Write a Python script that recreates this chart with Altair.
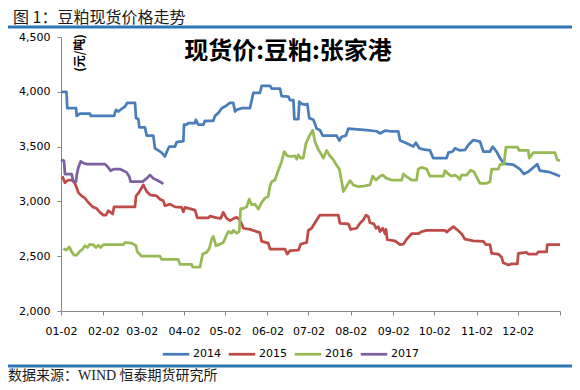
import altair as alt
import pandas as pd

years = ["2014", "2015", "2016", "2017"]
colors = ["#4A7EBB", "#BE4B48", "#98B954", "#7D60A0"]
tick_days = [0, 31, 59, 90, 120, 151, 181, 212, 243, 273, 304, 334, 365]
tick_labels = ["01-02", "02-02", "03-02", "04-02", "05-02", "06-02", "07-02",
               "08-02", "09-02", "10-02", "11-02", "12-02", ""]
y_ticks = [2000, 2500, 3000, 3500, 4000, 4500]

# day = days since Jan 2 of each year
d14 = [0, 4, 4.6, 11, 11.5, 13.9, 21.2, 21.7, 38.8, 40.2,
       42, 44.4, 46.8, 48.5, 54.1, 54.9, 56.6, 57.3, 61.4, 62.7,
       67.5, 68.7, 71.2, 73.6, 76, 77.8, 79.2, 83.4, 84.6, 89.5,
       90, 92, 93.1, 98, 98.7, 100.4, 104.1, 105.3, 111.4, 112.6,
       115, 117.5, 119.9, 123.6, 126, 127.3, 128.5, 132.1, 138.2, 140.7,
       145.5, 146.8, 152.9, 154.1, 160.2, 161.4, 166.3, 167.5, 170, 170.7,
       173.6, 174.3, 176, 179.7, 180.2, 181.6, 184.6, 187, 189.4, 191.4,
       201.6, 203.6, 205.3, 208.4, 210.2, 223.6, 230.9, 233.3, 237, 240.6,
       246.7, 248, 252.8, 257.7, 259.6, 262.1, 265, 269.9, 272.3, 282.1,
       283.3, 286.5, 288.2, 291.8, 295.5, 297.9, 301.6, 306.5, 308.9, 313.8,
       315.7, 318.6, 321.1, 324, 330.8, 335.7, 338.6, 341.8, 345.5, 348.4,
       350.3, 356.4, 360.1, 365]
p14 = [4000, 4000, 3850, 3850, 3780, 3800, 3800, 3780, 3780, 3835,
       3820, 3845, 3865, 3900, 3900, 3760, 3750, 3675, 3675, 3600,
       3600, 3485, 3465, 3445, 3410, 3465, 3500, 3500, 3540, 3550,
       3700, 3700, 3715, 3715, 3745, 3700, 3700, 3735, 3735, 3780,
       3805, 3850, 3865, 3900, 3900, 3820, 3835, 3850, 3850, 3990,
       3990, 4055, 4055, 4030, 4030, 3960, 3955, 3925, 3925, 3750,
       3750, 3910, 3890, 3880, 3890, 3760, 3745, 3665, 3650, 3600,
       3600, 3555, 3590, 3600, 3665, 3650, 3640, 3620, 3645, 3640,
       3640, 3555, 3530, 3500, 3535, 3485, 3475, 3465, 3395, 3395,
       3445, 3455, 3485, 3465, 3470, 3515, 3560, 3545, 3455, 3455,
       3500, 3455, 3395, 3345, 3335, 3295, 3250, 3270, 3310, 3340,
       3280, 3270, 3255, 3230]

d15 = [1, 2.9, 5.4, 7.8, 9.5, 11, 12.7, 15.1, 17.5, 20,
       23.2, 26.1, 28.5, 31, 33, 34.6, 36.3, 37.8, 38.8, 54.1,
       54.9, 56.6, 60.2, 62.7, 65.1, 70, 72.4, 74.8, 76.1, 79.7,
       83.4, 88.3, 89.5, 90.7, 98, 99.7, 107.8, 109, 113.9, 116.8,
       118.7, 121.2, 123.6, 126.5, 128.5, 130.4, 132.1, 133.4, 138.2, 145.5,
       146.8, 151.6, 152.9, 163.8, 165.5, 167.5, 173.6, 175.3, 179.7, 180.9,
       183.3, 187, 189.4, 202.8, 204, 210.2, 211.9, 216.2, 218.7, 221.1,
       223.1, 224.8, 226, 228.9, 230.4, 232.1, 233.3, 235.3, 237, 237.7,
       238.7, 244.3, 247.9, 250.4, 252.8, 256.5, 261.3, 263.8, 267.4, 280.9,
       282.1, 284.5, 287, 289.4, 293, 295.5, 301.6, 308.9, 310.8, 313.8,
       315, 319.9, 322.3, 323.5, 327.2, 329.6, 333.8, 334.5, 340.6, 341.8,
       347.9, 349.1, 355.2, 355.7, 365]
p15 = [3230, 3170, 3195, 3195, 3180, 3140, 3080, 3050, 3030, 2990,
       2950, 2935, 2900, 2875, 2875, 2915, 2900, 2885, 2950, 2950,
       3050, 3075, 3150, 3090, 3060, 3050, 3020, 3005, 2960, 2975,
       2950, 2945, 2905, 2945, 2920, 2850, 2850, 2865, 2850, 2845,
       2900, 2845, 2825, 2845, 2855, 2835, 2795, 2755, 2745, 2715,
       2635, 2620, 2565, 2565, 2520, 2550, 2555, 2610, 2625, 2735,
       2755, 2830, 2875, 2875, 2800, 2795, 2745, 2755, 2800, 2830,
       2875, 2860, 2805, 2795, 2755, 2770, 2725, 2755, 2705, 2745,
       2650, 2640, 2605, 2610, 2655, 2705, 2705, 2725, 2735, 2735,
       2720, 2745, 2770, 2745, 2705, 2655, 2640, 2635, 2605, 2605,
       2525, 2520, 2490, 2440, 2420, 2430, 2430, 2525, 2535, 2520,
       2520, 2540, 2540, 2605, 2605]

d16 = [1.7, 3.7, 6.1, 7.8, 9.5, 11.5, 13.4, 15.8, 17.5, 19.3,
       20.7, 23.6, 25.6, 27.3, 29, 31, 45.6, 46.8, 51.7, 54.9,
       55.8, 59, 72.4, 73.6, 85.8, 87, 95.6, 96.3, 101.7, 103.6,
       106.5, 108.5, 110.2, 111.4, 113.4, 116.3, 118.7, 121.2, 122.4, 124.8,
       126, 128.5, 130.4, 131.4, 133.4, 135.8, 137.7, 139.4, 141.9, 144.3,
       146.8, 149.2, 151.6, 152.9, 154.1, 156.5, 159, 161.4, 163.3, 165.5,
       168.7, 171.1, 172.4, 173.6, 175.3, 177.2, 179.2, 181.6, 184.1, 185.8,
       188.2, 190.6, 191.9, 194.3, 196.7, 199.2, 201.6, 203.6, 205.3, 206.5,
       209, 211.4, 213.8, 217.5, 221.1, 226, 228, 230.4, 233.3, 235.3,
       238.2, 241.8, 249.2, 250.4, 252.8, 254.8, 256.5, 260.1, 261.3, 263.8,
       267.4, 269.9, 279.6, 280.9, 283.3, 285.7, 288.2, 289.9, 291.8, 293,
       296.7, 299.6, 302.1, 304.5, 306.5, 311.3, 313.8, 315, 319.9, 321.1,
       324, 325.5, 333.8, 335.2, 341.8, 342.5, 345.5, 361.3, 363, 365]
p16 = [2570, 2555, 2585, 2540, 2510, 2510, 2540, 2565, 2595, 2580,
       2605, 2605, 2580, 2600, 2580, 2605, 2605, 2625, 2620, 2595,
       2540, 2500, 2500, 2470, 2470, 2425, 2425, 2400, 2400, 2520,
       2535, 2570, 2655, 2680, 2595, 2610, 2625, 2695, 2725, 2710,
       2735, 2710, 2725, 2935, 2935, 2950, 3020, 2970, 2975, 2930,
       2990, 3030, 3045, 3140, 3180, 3195, 3285, 3365, 3455, 3415,
       3410, 3415, 3385, 3425, 3395, 3395, 3530, 3595, 3650, 3545,
       3475, 3425, 3395, 3465, 3415, 3380, 3330, 3295, 3180, 3090,
       3140, 3190, 3150, 3135, 3140, 3150, 3230, 3195, 3230, 3240,
       3210, 3195, 3195, 3250, 3225, 3210, 3195, 3195, 3295, 3310,
       3295, 3230, 3230, 3280, 3250, 3230, 3240, 3225, 3200, 3240,
       3240, 3285, 3270, 3210, 3165, 3165, 3180, 3295, 3295, 3335,
       3340, 3495, 3495, 3465, 3465, 3395, 3445, 3445, 3380, 3370]

d17 = [0, 2.2, 2.9, 7.8, 9, 11, 11.5, 12.7, 14.4, 16.3,
       18.8, 32.2, 34.6, 36.3, 38.8, 43.1, 45.6, 48, 50, 50.9,
       59.7, 62.7, 65.1, 67.5, 70, 72.4, 74.8]
p17 = [3380, 3370, 3250, 3250, 3180, 3180, 3240, 3310, 3365, 3350,
       3340, 3340, 3310, 3280, 3295, 3295, 3280, 3265, 3225, 3180,
       3180, 3210, 3240, 3210, 3195, 3180, 3160]

title_text = "图 1：豆粕现货价格走势"
chart_title = "现货价:豆粕:张家港"
unit_text = "(元/吨)"
source_text = "数据来源：WIND 恒泰期货研究所"

frames = []
for yr, d, p in zip(years, [d14, d15, d16, d17], [p14, p15, p16, p17]):
    frames.append(pd.DataFrame({"day": d, "price": p, "year": yr,
                                "seq": list(range(len(d)))}))
df = pd.concat(frames, ignore_index=True)

label_expr = ("[" + ",".join("'" + s + "'" for s in tick_labels) + "][indexof(["
              + ",".join(str(v) for v in tick_days) + "], datum.value)]")

AX = "#868686"
lines = alt.Chart(df).mark_line(strokeWidth=2.75, strokeJoin="round").encode(
    x=alt.X("day:Q",
            scale=alt.Scale(domain=[0, 365], nice=False, zero=False),
            axis=alt.Axis(values=tick_days, labelExpr=label_expr, title=None,
                          grid=False, labelPadding=10, labelFlush=False)),
    y=alt.Y("price:Q",
            scale=alt.Scale(domain=[2000, 4500], nice=False, zero=False),
            axis=alt.Axis(values=y_ticks, format=",.0f", title=None, grid=False,
                          labelPadding=7)),
    color=alt.Color("year:N",
                    scale=alt.Scale(domain=years, range=colors),
                    legend=alt.Legend(title=None, orient="none", direction="horizontal",
                                      legendX=100, legendY=302, symbolType="stroke",
                                      symbolSize=700, symbolStrokeWidth=2.75,
                                      labelFont="DejaVu Sans", labelFontSize=11,
                                      labelColor="#000000", labelOffset=2,
                                      columnPadding=2, padding=0)),
    order="seq:Q",
)

deco = pd.DataFrame({"k": [0]})
CJK = "Noto Sans CJK SC"
RULE = "#2E75B6"

title_mark = alt.Chart(deco).mark_text(
    text=title_text, align="left", baseline="middle", font=CJK, fontSize=16,
    color="#1a1a1a").encode(x=alt.value(-48), y=alt.value(-19))

top_rule = alt.Chart(deco).mark_rule(color=RULE, strokeWidth=3).encode(
    x=alt.value(-53), x2=alt.value(511), y=alt.value(-10))

bottom_rule = alt.Chart(deco).mark_rule(color=RULE, strokeWidth=3).encode(
    x=alt.value(-53), x2=alt.value(511), y=alt.value(329))

sub_mark = alt.Chart(deco).mark_text(
    text=chart_title, align="center", baseline="middle", font=CJK, fontSize=24,
    fontWeight="bold", color="#000000").encode(x=alt.value(227), y=alt.value(15))

unit_mark = alt.Chart(deco).mark_text(
    text=unit_text, align="center", baseline="middle", font=CJK, fontSize=12,
    fontWeight="bold", angle=270, color="#000000").encode(x=alt.value(19), y=alt.value(16))

source_mark = alt.Chart(deco).mark_text(
    text=source_text, align="left", baseline="middle",
    font="Liberation Serif, Noto Sans CJK SC", fontSize=14,
    color="#1a1a1a").encode(x=alt.value(-53), y=alt.value(339))

chart = alt.layer(lines, title_mark, top_rule, bottom_rule, sub_mark, unit_mark,
                  source_mark).properties(
    width=499, height=274,
    padding={"left": 53, "top": 29, "right": 12, "bottom": 71},
    autosize=alt.AutoSizeParams(type="none"),
).configure_view(stroke=None).configure_axis(
    domainColor=AX, tickColor=AX, tickSize=4, domainWidth=1, tickWidth=1,
    labelFont="DejaVu Sans", labelFontSize=11, labelColor="#000000",
).configure_legend(
    symbolType="stroke"
)

chart.save("out.html", embed_options={"renderer": "svg", "actions": False})
